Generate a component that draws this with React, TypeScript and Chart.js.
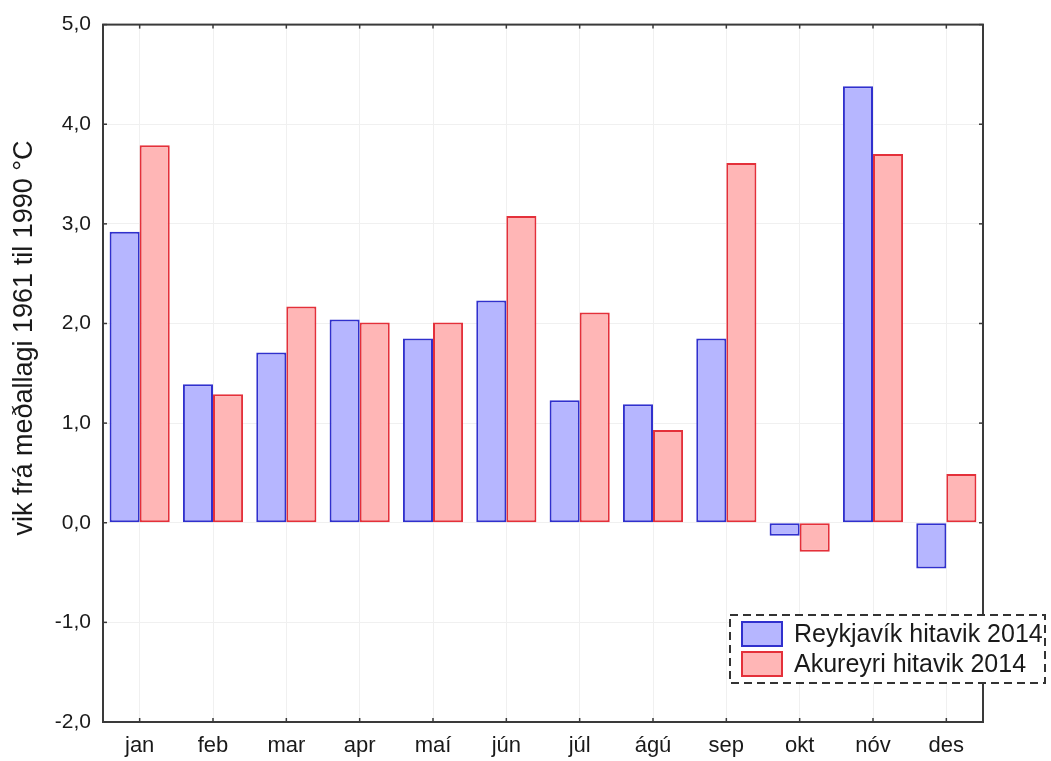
import { useEffect, useRef } from 'react';
import { Chart, registerables } from 'chart.js';

Chart.register(...registerables);

const months = ['jan', 'feb', 'mar', 'apr', 'maí', 'jún', 'júl', 'ágú', 'sep', 'okt', 'nóv', 'des'];
const reykjavik = [2.92, 1.39, 1.71, 2.04, 1.85, 2.23, 1.23, 1.19, 1.85, -0.13, 4.38, -0.46];
const akureyri = [3.79, 1.29, 2.17, 2.01, 2.01, 3.08, 2.11, 0.93, 3.61, -0.29, 3.70, 0.49];
const seriesNames = ['Reykjavík hitavik 2014', 'Akureyri hitavik 2014'];
const yMin = -2;
const yMax = 5;
const yStep = 1;
const yTitle = 'vik frá meðallagi 1961 til 1990 °C';

const FONT = 'Liberation Sans';
const blueFill = 'rgb(182,182,255)';
const blueLine = 'rgb(48,48,205)';
const redFill = 'rgb(255,182,182)';
const redLine = 'rgb(228,48,58)';

const framePlugin = {
  id: 'frameDecor',
  afterDraw(chart: any) {
    const { ctx, chartArea: a, scales } = chart;
    ctx.save();
    // frame
    ctx.strokeStyle = '#3a3a3a';
    ctx.lineWidth = 2;
    ctx.setLineDash([]);
    ctx.strokeRect(a.left, a.top, a.right - a.left, a.bottom - a.top);
    ctx.lineWidth = 1.5;
    const line = (x1: number, y1: number, x2: number, y2: number) => {
      ctx.beginPath();
      ctx.moveTo(x1, y1);
      ctx.lineTo(x2, y2);
      ctx.stroke();
    };
    scales.x.ticks.forEach((_: any, i: number) => {
      const x = scales.x.getPixelForTick(i);
      line(x, a.top, x, a.top + 4);
      line(x, a.bottom, x, a.bottom - 4);
    });
    scales.y.ticks.forEach((_: any, i: number) => {
      const y = scales.y.getPixelForTick(i);
      line(a.left, y, a.left + 4, y);
      line(a.right, y, a.right - 4, y);
    });

    // y title
    ctx.save();
    ctx.translate(25, 338);
    ctx.rotate(-Math.PI / 2);
    ctx.fillStyle = '#1a1a1a';
    ctx.font = `27px "${FONT}"`;
    ctx.textAlign = 'center';
    ctx.textBaseline = 'middle';
    ctx.fillText(yTitle, 0, 0);
    ctx.restore();

    // legend
    const lx = 730, ly = 615, lw = 315, lh = 68;
    ctx.fillStyle = '#ffffff';
    ctx.fillRect(lx, ly, lw, lh);
    ctx.strokeStyle = '#333333';
    ctx.lineWidth = 2;
    ctx.setLineDash([8, 5]);
    ctx.strokeRect(lx, ly, lw, lh);
    ctx.setLineDash([]);
    const rows = [
      { fill: blueFill, stroke: blueLine, y: 634 },
      { fill: redFill, stroke: redLine, y: 664 },
    ];
    rows.forEach((r, i) => {
      ctx.fillStyle = r.fill;
      ctx.fillRect(742, r.y - 12, 40, 24);
      ctx.strokeStyle = r.stroke;
      ctx.lineWidth = 2;
      ctx.strokeRect(742, r.y - 12, 40, 24);
      ctx.fillStyle = '#1a1a1a';
      ctx.font = `25px "${FONT}"`;
      ctx.textAlign = 'left';
      ctx.textBaseline = 'middle';
      ctx.fillText(seriesNames[i], 794, r.y + 1);
    });
    ctx.restore();
  },
};

export default function App() {
  const canvasRef = useRef<HTMLCanvasElement | null>(null);

  useEffect(() => {
    if (!canvasRef.current) return;
    const chart = new Chart(canvasRef.current, {
      type: 'bar',
      data: {
        labels: months,
        datasets: [
          {
            label: seriesNames[0],
            data: reykjavik,
            backgroundColor: blueFill,
            borderColor: blueLine,
            borderWidth: 2,
            borderSkipped: false,
            categoryPercentage: 0.82,
            barPercentage: 1.0,
          },
          {
            label: seriesNames[1],
            data: akureyri,
            backgroundColor: redFill,
            borderColor: redLine,
            borderWidth: 2,
            borderSkipped: false,
            categoryPercentage: 0.82,
            barPercentage: 1.0,
          },
        ],
      },
      options: {
        animation: false,
        responsive: true,
        maintainAspectRatio: false,
        layout: { padding: { top: 22, right: 68, left: 0, bottom: 0 } },
        plugins: {
          legend: { display: false },
          tooltip: { enabled: false },
        },
        scales: {
          x: {
            offset: true,
            grid: { offset: false, color: '#f0f0f0', drawTicks: false },
            border: { display: false },
            ticks: {
              font: { family: FONT, size: 22 },
              color: '#1a1a1a',
              padding: 11,
              maxRotation: 0,
            },
            afterFit: (s: any) => {
              s.height = 39;
            },
          },
          y: {
            min: yMin,
            max: yMax,
            grid: { color: '#f0f0f0', drawTicks: false },
            border: { display: false },
            ticks: {
              stepSize: yStep,
              font: { family: FONT, size: 21 },
              color: '#1a1a1a',
              padding: 12,
              callback: (v: any) => Number(v).toFixed(1).replace('.', ','),
            },
            afterFit: (s: any) => {
              s.width = 103;
            },
          },
        },
      },
      plugins: [framePlugin],
    });
    return () => chart.destroy();
  }, []);

  return (
    <div style={{ position: 'absolute', left: 0, top: 0, width: 1051, height: 761, background: '#fff' }}>
      <canvas ref={canvasRef} />
    </div>
  );
}
